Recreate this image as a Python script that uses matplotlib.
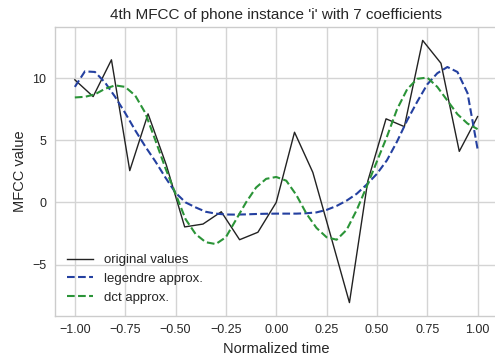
import numpy as np
import matplotlib
matplotlib.use("Agg")
import matplotlib.pyplot as plt

# 23 original samples over normalized time
t_orig = np.linspace(-1, 1, 23)
original = [9.87, 8.52, 11.48, 2.56, 7.13, 3.0, -1.97, -1.74, -0.75, -3.0,
            -2.4, 0.0, 5.65, 2.42, -2.8, -8.06, 1.7, 6.73, 6.1, 13.04,
            11.2, 4.11, 6.91]

# approximations every 0.05
t_fine = np.linspace(-1, 1, 41)
legendre = [9.3, 10.55, 10.5, 9.65, 8.5, 7.2, 5.8, 4.5, 3.3, 2.0,
            0.78, 0.0, -0.4, -0.75, -0.9, -0.97, -0.98, -0.96, -0.93, -0.91,
            -0.9, -0.9, -0.9, -0.87, -0.8, -0.6, -0.28, 0.15, 0.7, 1.45,
            2.3, 3.4, 4.9, 6.6, 8.1, 9.5, 10.4, 10.9, 10.5, 8.8,
            4.3]
dct = [8.45, 8.5, 8.7, 9.15, 9.42, 9.3, 8.6, 7.2, 5.0, 2.75,
       0.7, -1.35, -2.55, -3.2, -3.35, -2.8, -1.4, 0.0, 1.2, 1.9,
       2.05, 1.75, 0.6, -0.9, -2.05, -2.8, -3.0, -2.2, -0.6, 1.3,
       3.3, 5.3, 7.5, 9.1, 9.95, 10.05, 9.3, 8.2, 7.1, 6.35,
       5.9]

plt.rcParams.update({
    "font.family": ["Liberation Sans", "DejaVu Sans"],
    "axes.edgecolor": "#cccccc",
    "axes.linewidth": 1.0,
    "grid.color": "#d4d4d4",
    "grid.linewidth": 1.0,
    "xtick.color": "#262626",
    "ytick.color": "#262626",
    "xtick.major.size": 0,
    "ytick.major.size": 0,
    "text.color": "#262626",
    "axes.labelcolor": "#262626",
})

fig = plt.figure(figsize=(4.95, 3.56), dpi=100)
ax = fig.add_axes([0.1105, 0.1132, 0.895, 0.8101])
ax.set_axisbelow(True)
ax.grid(True)

ax.plot(t_orig, original, color="#222222", linewidth=1.0, label="original values")
ax.plot(t_fine, legendre, color="#2440a0", linestyle="--", linewidth=1.5,
        label="legendre approx.")
ax.plot(t_fine, dct, color="#2b9438", linestyle="--", linewidth=1.5,
        label="dct approx.")

ax.set_xticks(np.arange(-1, 1.01, 0.25))
ax.set_yticks([-5, 0, 5, 10])
ax.tick_params(labelsize=9, pad=6)
ax.set_xlabel("Normalized time", fontsize=10.5)
ax.set_ylabel("MFCC value", fontsize=10.5)
ax.set_title("4th MFCC of phone instance 'i' with 7 coefficients", fontsize=11)
ax.legend(loc="lower left", frameon=False, fontsize=9.5)

fig.savefig("out.png", dpi=100)
